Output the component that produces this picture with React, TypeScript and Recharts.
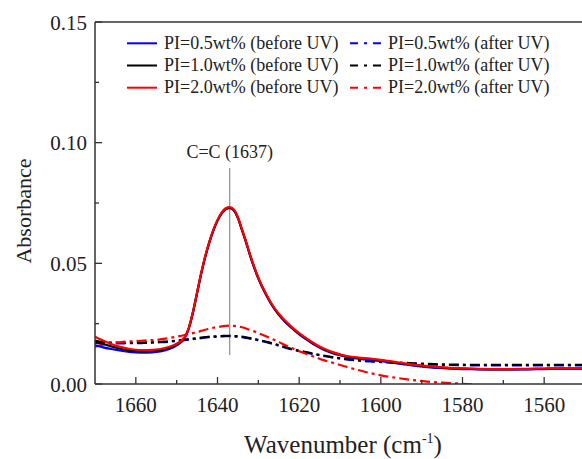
import { LineChart, Line, XAxis, YAxis, ReferenceLine } from 'recharts';

const wavenumbers = [
  1670, 1668, 1666, 1664, 1662, 1660, 1658, 1656, 1654, 1652, 1650,
  1648, 1647, 1646, 1645, 1644, 1643, 1642, 1641, 1640, 1639, 1638, 1637, 1636, 1635, 1634, 1633, 1632, 1631, 1630,
  1628, 1626, 1624, 1622, 1620, 1618, 1616, 1614, 1612, 1610, 1608, 1606, 1604, 1602, 1600,
  1596, 1592, 1588, 1584, 1580, 1576, 1572, 1568, 1564, 1560, 1556, 1552, 1550,
];

const before05 = [
  0.016, 0.0152, 0.0145, 0.0139, 0.0134, 0.0131, 0.013, 0.0131, 0.0135, 0.0144, 0.016,
  0.0192, 0.0231, 0.0296, 0.0376, 0.0456, 0.0526, 0.0586, 0.0636, 0.0676, 0.0706, 0.0724, 0.0729, 0.0719, 0.0687, 0.0637, 0.0586, 0.0531, 0.0481, 0.0437,
  0.0366, 0.0309, 0.0267, 0.0234, 0.0206, 0.0182, 0.016, 0.0142, 0.0129, 0.0119, 0.0111, 0.0106, 0.0102, 0.0098, 0.0095,
  0.0085, 0.0076, 0.0069, 0.0065, 0.0062, 0.0061, 0.006, 0.006, 0.0061, 0.0062, 0.0063, 0.0063, 0.0063,
];

const before10 = [
  0.0176, 0.0166, 0.0156, 0.0147, 0.014, 0.0136, 0.0135, 0.0136, 0.014, 0.0149, 0.0164,
  0.0194, 0.0233, 0.0298, 0.0378, 0.0458, 0.0528, 0.0588, 0.0638, 0.0678, 0.0708, 0.0726, 0.0731, 0.0721, 0.0689, 0.0639, 0.0588, 0.0533, 0.0483, 0.0439,
  0.0368, 0.0311, 0.0269, 0.0236, 0.0209, 0.0185, 0.0163, 0.0145, 0.0131, 0.0121, 0.0113, 0.0108, 0.0105, 0.0102, 0.0098,
  0.0088, 0.0079, 0.0072, 0.0067, 0.0064, 0.0062, 0.0061, 0.0061, 0.0062, 0.0063, 0.0064, 0.0064, 0.0064,
];

const before20 = [
  0.0196, 0.018, 0.0166, 0.0155, 0.0147, 0.0142, 0.014, 0.0141, 0.0145, 0.0153, 0.0167,
  0.0196, 0.0235, 0.03, 0.038, 0.046, 0.053, 0.059, 0.064, 0.068, 0.071, 0.0728, 0.0733, 0.0723, 0.0691, 0.0641, 0.059, 0.0535, 0.0485, 0.0441,
  0.037, 0.0313, 0.0272, 0.0239, 0.0211, 0.0187, 0.0165, 0.0147, 0.0133, 0.0123, 0.0115, 0.011, 0.0107, 0.0104, 0.01,
  0.009, 0.008, 0.0073, 0.0068, 0.0065, 0.0063, 0.0062, 0.0062, 0.0063, 0.0064, 0.0065, 0.0065, 0.0065,
];

const after05 = [
  0.017, 0.0168, 0.0168, 0.0168, 0.0169, 0.0169, 0.017, 0.0171, 0.0173, 0.0175, 0.0178,
  0.0182, 0.0184, 0.0186, 0.0188, 0.019, 0.0192, 0.0194, 0.0195, 0.0196, 0.0197, 0.0198, 0.0198, 0.0197, 0.0196, 0.0194, 0.0191, 0.0188, 0.0185, 0.0181,
  0.0173, 0.0164, 0.0154, 0.0144, 0.0136, 0.0129, 0.0122, 0.0116, 0.011, 0.0105, 0.0101, 0.0098, 0.0095, 0.0093, 0.0091,
  0.0087, 0.0084, 0.0081, 0.0079, 0.0078, 0.0077, 0.0077, 0.0077, 0.0077, 0.0077, 0.0077, 0.0077, 0.0077,
];

const after10 = [
  0.018, 0.0174, 0.0172, 0.0171, 0.0171, 0.0171, 0.0172, 0.0173, 0.0175, 0.0177, 0.018,
  0.0184, 0.0186, 0.0188, 0.019, 0.0192, 0.0194, 0.0196, 0.0197, 0.0198, 0.0199, 0.02, 0.02, 0.0199, 0.0198, 0.0196, 0.0193, 0.019, 0.0187, 0.0183,
  0.0175, 0.0166, 0.0156, 0.0146, 0.0138, 0.0131, 0.0124, 0.0118, 0.0112, 0.0107, 0.0103, 0.01, 0.0097, 0.0095, 0.0093,
  0.0089, 0.0086, 0.0083, 0.0081, 0.008, 0.0079, 0.0079, 0.0079, 0.0079, 0.0079, 0.0079, 0.0079, 0.0079,
];

const after20 = [
  0.0155, 0.0163, 0.0169, 0.0173, 0.0176, 0.0178, 0.018, 0.0182, 0.0185, 0.019, 0.0196,
  0.0203, 0.0207, 0.0211, 0.0215, 0.022, 0.0225, 0.0229, 0.0233, 0.0236, 0.0239, 0.0241, 0.0242, 0.0241, 0.0239, 0.0235, 0.023, 0.0224, 0.0218, 0.0211,
  0.0197, 0.0182, 0.0166, 0.015, 0.0136, 0.0123, 0.0111, 0.0099, 0.0089, 0.0079, 0.0069, 0.006, 0.0051, 0.0043, 0.0036,
  0.0025, 0.0016, 0.0009, 0.0005, 0.0001, -0.0004, -0.0009, -0.0014, -0.0019, -0.0024, -0.0029, -0.0034, -0.0036,
];

const xTicks = [1660, 1650, 1640, 1630, 1620, 1610, 1600, 1590, 1580, 1570, 1560];
const yTicks = [0, 0.025, 0.05, 0.075, 0.1, 0.125, 0.15];

const FONT = '"Liberation Serif", "Times New Roman", serif';
const AXIS = '#333';
const DASH = '10 4 3 4';

// legend order: left column before UV, right column after UV
const series = [
  { key: 'b05', label: 'PI=0.5wt% (before UV)', color: '#0000ff', dashed: false, values: before05 },
  { key: 'b10', label: 'PI=1.0wt% (before UV)', color: '#000000', dashed: false, values: before10 },
  { key: 'b20', label: 'PI=2.0wt% (before UV)', color: '#ff0000', dashed: false, values: before20 },
  { key: 'a05', label: 'PI=0.5wt% (after UV)', color: '#0000ff', dashed: true, values: after05 },
  { key: 'a10', label: 'PI=1.0wt% (after UV)', color: '#000000', dashed: true, values: after10 },
  { key: 'a20', label: 'PI=2.0wt% (after UV)', color: '#ff0000', dashed: true, values: after20 },
];

const drawOrder = ['a05', 'a10', 'a20', 'b05', 'b10', 'b20'];

const data = wavenumbers.map((wn, i) => {
  const row: Record<string, number> = { wn };
  series.forEach((s) => {
    row[s.key] = s.values[i];
  });
  return row;
});

function XTick({ x, y, payload }: any) {
  const v = payload.value;
  const major = v % 20 === 0;
  return (
    <g>
      <line x1={x} x2={x} y1={y} y2={y - (major ? 7 : 4)} stroke={AXIS} strokeWidth={1.3} />
      {major && (
        <text x={x} y={y + 28} textAnchor="middle" fontFamily={FONT} fontSize={21} fill="#222">
          {v}
        </text>
      )}
    </g>
  );
}

function YTick({ x, y, payload }: any) {
  const v = payload.value;
  const major = Math.round(v * 1000) % 50 === 0;
  return (
    <g>
      <line x1={x} x2={x + (major ? 7 : 4)} y1={y} y2={y} stroke={AXIS} strokeWidth={1.3} />
      {major && (
        <text x={x - 8} y={y + 7.5} textAnchor="end" fontFamily={FONT} fontSize={21} fill="#222">
          {v.toFixed(2)}
        </text>
      )}
    </g>
  );
}

function XTitle({ viewBox }: any) {
  const cx = viewBox.x + viewBox.width / 2 + 3;
  return (
    <text x={cx} y={viewBox.y + 69} textAnchor="middle" fontFamily={FONT} fontSize={25} fill="#222">
      Wavenumber (cm
      <tspan dy={-10} fontSize={14}>-1</tspan>
      <tspan dy={10}>)</tspan>
    </text>
  );
}

function YTitle() {
  return (
    <text
      x={31}
      y={211}
      transform="rotate(-90, 31, 211)"
      textAnchor="middle"
      fontFamily={FONT}
      fontSize={22}
      fill="#222"
    >
      Absorbance
    </text>
  );
}

function LegendBox() {
  const rows = [43.3, 65.5, 87.7];
  const cols = [
    { lineX: 127, lineW: 30, textX: 164 },
    { lineX: 350, lineW: 33, textX: 388 },
  ];
  return (
    <svg width={582} height={110} style={{ position: 'absolute', left: 0, top: 0 }}>
      {series.map((s, i) => {
        const col = cols[s.dashed ? 1 : 0];
        const y = rows[i % 3];
        return (
          <g key={s.key}>
            <line
              x1={col.lineX}
              x2={col.lineX + col.lineW}
              y1={y}
              y2={y}
              stroke={s.color}
              strokeWidth={2}
              strokeDasharray={s.dashed ? '8 6 3 6' : undefined}
            />
            <text x={col.textX} y={y + 5.5} fontFamily={FONT} fontSize={18} fill="#222">
              {s.label}
            </text>
          </g>
        );
      })}
    </svg>
  );
}

export default function App() {
  return (
    <div
      style={{
        position: 'absolute',
        left: 0,
        top: 0,
        width: 582,
        height: 459,
        overflow: 'hidden',
        background: '#fff',
      }}
    >
      <LineChart width={586} height={459} data={data} margin={{ top: 22, right: 1, bottom: 0, left: 0 }}>
        <XAxis
          dataKey="wn"
          type="number"
          domain={[1550, 1670]}
          reversed
          allowDataOverflow
          ticks={xTicks}
          interval={0}
          tickSize={0}
          tickMargin={0}
          tickLine={false}
          tick={<XTick />}
          height={75}
          axisLine={{ stroke: AXIS, strokeWidth: 1.5 }}
          label={{ content: <XTitle /> }}
        />
        <YAxis
          type="number"
          domain={[0, 0.15]}
          allowDataOverflow
          ticks={yTicks}
          interval={0}
          tickSize={0}
          tickMargin={0}
          tickLine={false}
          tick={<YTick />}
          width={95}
          axisLine={{ stroke: AXIS, strokeWidth: 1.5 }}
          label={{ content: <YTitle /> }}
        />
        <ReferenceLine y={0.15} stroke={AXIS} strokeWidth={1.5} />
        <ReferenceLine x={1550} stroke={AXIS} strokeWidth={1.5} />
        <ReferenceLine
          segment={[
            { x: 1637, y: 0.012 },
            { x: 1637, y: 0.0895 },
          ]}
          stroke="#777"
          strokeWidth={1}
          label={{
            value: 'C=C (1637)',
            position: 'top',
            offset: 10,
            fontFamily: FONT,
            fontSize: 18,
            fill: '#222',
          }}
        />
        {drawOrder.map((k) => {
          const s = series.find((d) => d.key === k)!;
          return (
            <Line
              key={s.key}
              dataKey={s.key}
              type="monotone"
              stroke={s.color}
              strokeWidth={2.2}
              strokeDasharray={s.dashed ? DASH : undefined}
              dot={false}
              activeDot={false}
              isAnimationActive={false}
            />
          );
        })}
      </LineChart>
      <LegendBox />
    </div>
  );
}
